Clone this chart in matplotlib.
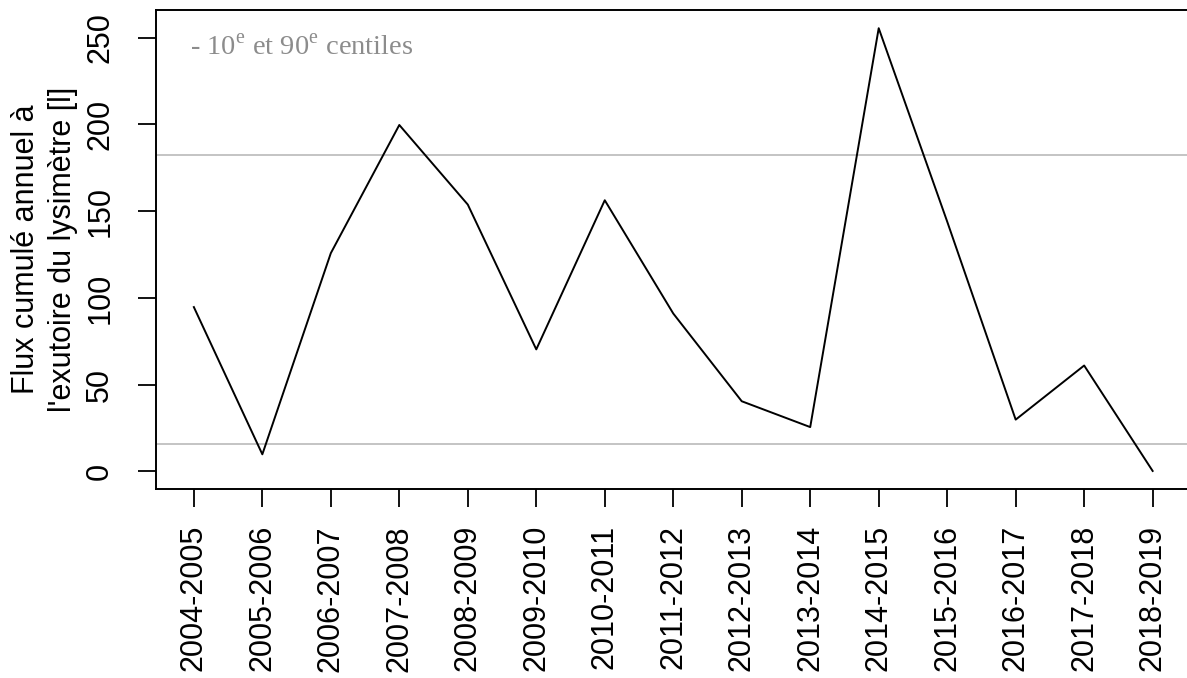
import numpy as np
import matplotlib
matplotlib.use("Agg")
import matplotlib.pyplot as plt

plt.rcParams['font.family'] = ['Liberation Sans', 'DejaVu Sans']
plt.rcParams['mathtext.fontset'] = 'custom'
plt.rcParams['mathtext.rm'] = 'Liberation Serif'

saisons = ["2004-2005", "2005-2006", "2006-2007", "2007-2008", "2008-2009",
           "2009-2010", "2010-2011", "2011-2012", "2012-2013", "2013-2014",
           "2014-2015", "2015-2016", "2016-2017", "2017-2018", "2018-2019"]
flux = [94.7, 9.8, 125.8, 199.7, 153.8, 70.3, 156.3, 91.0, 40.4, 25.5,
        255.5, 144.0, 29.8, 61.0, 0.2]
centile_10 = 16.0
centile_90 = 182.4
yticks = [0, 50, 100, 150, 200, 250]

W, H = 1187, 678
fig = plt.figure(figsize=(W / 100, H / 100), dpi=100)
ax = fig.add_axes([155.5 / W, 1 - 489 / H, 1035.5 / W, 479 / H])

x = np.arange(len(saisons))
ax.axhline(centile_10, color="#c4c4c4", lw=1.4, zorder=1)
ax.axhline(centile_90, color="#c4c4c4", lw=1.4, zorder=1)
ax.plot(x, flux, color="black", lw=1.4, zorder=2)

ax.set_xlim(-0.56, 14.56)
ax.set_ylim(-10.2, 266)
ax.set_xticks(x)
ax.set_xticklabels(saisons, rotation=90, va="top", fontsize=22)
ax.set_yticks(yticks)
ax.set_yticklabels([str(v) for v in yticks], rotation=90, va="center", fontsize=22)
ax.tick_params(axis="x", length=13, width=1.3, pad=13)
ax.tick_params(axis="y", length=13, width=1.3, pad=16)
for s in ax.spines.values():
    s.set_linewidth(1.4)

ax.set_ylabel("Flux cumulé annuel à\nl'exutoire du lysimètre [l]", fontsize=22,
              linespacing=1.33)
ax.yaxis.set_label_coords(-77 / 1035.5, 0.5)

ax.text(190 / W, 1 - 48 / H, r"- 10$^{\mathrm{e}}$ et 90$^{\mathrm{e}}$ centiles",
        transform=fig.transFigure, fontsize=20.5, color="#8c8c8c",
        family="Liberation Serif", va="center", ha="left")

fig.savefig("out.png", dpi=100)
